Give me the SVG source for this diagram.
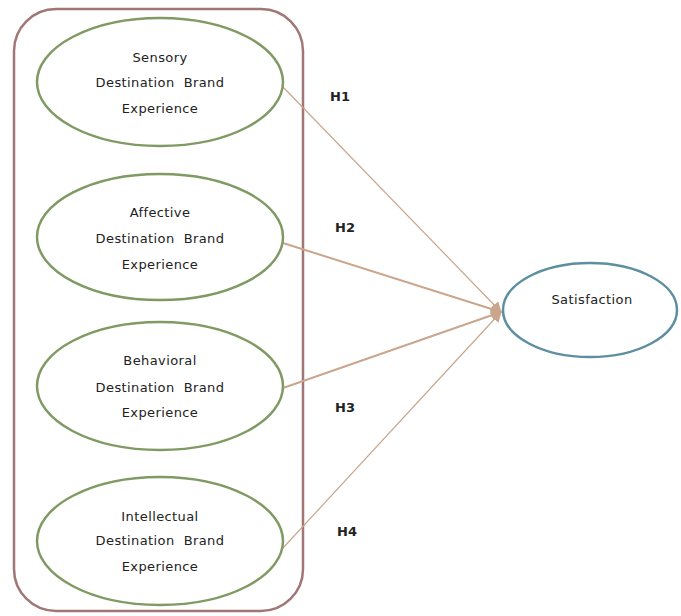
<svg xmlns="http://www.w3.org/2000/svg" width="681" height="616" viewBox="0 0 681 616">
<defs>
<style>
.grp{fill:none;stroke:#a07676;stroke-width:2.5}
.dim{fill:#fff;stroke:#7f9a62;stroke-width:2.5}
.out{fill:#fff;stroke:#5e8fa0;stroke-width:2.5}
.t{font-family:"DejaVu Sans",Verdana,sans-serif;font-size:13px;letter-spacing:0.4px;fill:#222;text-anchor:middle}
.h{font-family:"DejaVu Sans",Verdana,sans-serif;font-size:13px;font-weight:bold;fill:#222}
.c{stroke:#c9a68c;fill:none}
</style>
<marker id="ah" viewBox="0 0 10 10" refX="9" refY="5" markerWidth="11" markerHeight="11" markerUnits="userSpaceOnUse" orient="auto">
<path d="M0,0 L10,5 L0,10 z" fill="#c9a68c"/>
</marker>
</defs>
<rect width="681" height="616" fill="#fff"/>
<rect id="group" class="grp" x="14" y="9" width="289" height="602" rx="42" ry="42"/>
<g id="connectors">
<line class="c" stroke-width="1.2" x1="283" y1="87" x2="501" y2="312" marker-end="url(#ah)"/>
<line class="c" stroke-width="2" x1="283" y1="243" x2="501" y2="312" marker-end="url(#ah)"/>
<line class="c" stroke-width="2" x1="283" y1="388" x2="501" y2="312" marker-end="url(#ah)"/>
<line class="c" stroke-width="1.2" x1="283" y1="548" x2="501" y2="312" marker-end="url(#ah)"/>
</g>
<g id="sensory">
<ellipse class="dim" cx="160" cy="82" rx="123" ry="64"/>
<text class="t" x="160" y="62">Sensory</text>
<text class="t" x="160" y="87" xml:space="preserve">Destination  Brand</text>
<text class="t" x="160" y="113">Experience</text>
</g>
<g id="affective">
<ellipse class="dim" cx="160" cy="237" rx="123" ry="63"/>
<text class="t" x="160" y="217">Affective</text>
<text class="t" x="160" y="243" xml:space="preserve">Destination  Brand</text>
<text class="t" x="160" y="269">Experience</text>
</g>
<g id="behavioral">
<ellipse class="dim" cx="160" cy="386" rx="123" ry="64"/>
<text class="t" x="160" y="365">Behavioral</text>
<text class="t" x="160" y="392" xml:space="preserve">Destination  Brand</text>
<text class="t" x="160" y="417">Experience</text>
</g>
<g id="intellectual">
<ellipse class="dim" cx="160" cy="541" rx="123" ry="64"/>
<text class="t" x="160" y="521">Intellectual</text>
<text class="t" x="160" y="545" xml:space="preserve">Destination  Brand</text>
<text class="t" x="160" y="571">Experience</text>
</g>
<g id="satisfaction">
<ellipse class="out" cx="590" cy="310" rx="87" ry="47"/>
<text class="t" x="592" y="304">Satisfaction</text>
</g>
<g id="labels">
<text class="h" x="330" y="101">H1</text>
<text class="h" x="335" y="232">H2</text>
<text class="h" x="335" y="412">H3</text>
<text class="h" x="337" y="536">H4</text>
</g>
</svg>
